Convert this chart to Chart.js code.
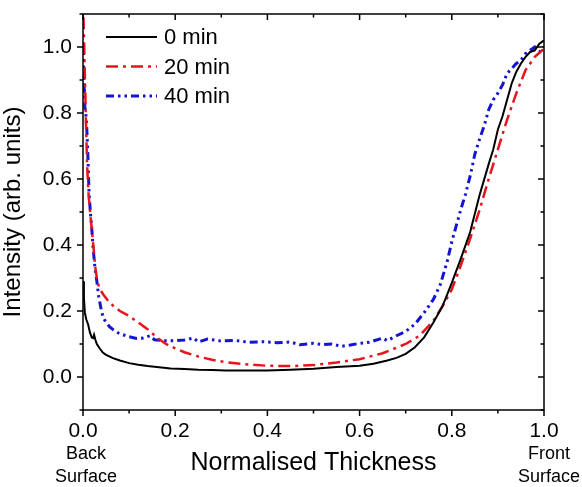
<!DOCTYPE html>
<html>
<head>
<meta charset="utf-8">
<script src="https://cdn.jsdelivr.net/npm/chart.js@4.4.1/dist/chart.umd.min.js"></script>
<style>
html, body { margin: 0; padding: 0; background: #fff; }
</style>
</head>
<body>
<canvas id="profile" width="582" height="487"></canvas>
<script>
// 0 min
const thick0 = [0, 0.002, 0.004, 0.007, 0.011, 0.015, 0.019, 0.022, 0.024, 0.027, 0.03, 0.036, 0.043, 0.05, 0.065, 0.08, 0.1, 0.12, 0.14, 0.16, 0.19, 0.22, 0.25, 0.28, 0.31, 0.35, 0.4, 0.45, 0.5, 0.55, 0.6, 0.63, 0.66, 0.68, 0.7, 0.72, 0.74, 0.76, 0.78, 0.8, 0.82, 0.84, 0.86, 0.88, 0.89, 0.9, 0.91, 0.92, 0.93, 0.94, 0.95, 0.96, 0.97, 0.98, 0.99, 1.0];
const inten0 = [0.29, 0.24, 0.195, 0.175, 0.16, 0.135, 0.12, 0.118, 0.128, 0.112, 0.1, 0.087, 0.074, 0.067, 0.057, 0.05, 0.042, 0.037, 0.033, 0.03, 0.026, 0.024, 0.022, 0.021, 0.02, 0.02, 0.02, 0.022, 0.025, 0.03, 0.034, 0.04, 0.05, 0.058, 0.07, 0.09, 0.12, 0.165, 0.215, 0.285, 0.36, 0.44, 0.55, 0.645, 0.69, 0.75, 0.79, 0.84, 0.89, 0.925, 0.95, 0.97, 0.985, 0.99, 1.01, 1.02];

// 20 min
const thick20 = [0.001, 0.003, 0.005, 0.007, 0.009, 0.012, 0.016, 0.019, 0.023, 0.026, 0.03, 0.035, 0.044, 0.055, 0.066, 0.08, 0.1, 0.12, 0.14, 0.16, 0.18, 0.2, 0.22, 0.25, 0.28, 0.31, 0.35, 0.4, 0.45, 0.5, 0.55, 0.6, 0.65, 0.7, 0.73, 0.76, 0.78, 0.8, 0.82, 0.84, 0.86, 0.88, 0.9, 0.92, 0.94, 0.96, 0.98, 1.0];
const inten20 = [1.09, 0.98, 0.86, 0.74, 0.64, 0.555, 0.49, 0.45, 0.39, 0.34, 0.3, 0.27, 0.25, 0.23, 0.215, 0.2, 0.185, 0.165, 0.145, 0.12, 0.1, 0.087, 0.075, 0.062, 0.052, 0.045, 0.039, 0.034, 0.033, 0.036, 0.044, 0.054, 0.072, 0.1, 0.125, 0.17, 0.215, 0.265, 0.34, 0.42, 0.505, 0.6, 0.69, 0.78, 0.86, 0.93, 0.97, 0.995];

// 40 min
const thick40 = [0.001, 0.002, 0.003, 0.004, 0.006, 0.008, 0.011, 0.013, 0.016, 0.019, 0.022, 0.026, 0.03, 0.034, 0.04, 0.044, 0.05, 0.058, 0.066, 0.076, 0.087, 0.1, 0.116, 0.13, 0.145, 0.155, 0.174, 0.2, 0.22, 0.24, 0.25, 0.27, 0.3, 0.33, 0.36, 0.39, 0.42, 0.45, 0.47, 0.5, 0.52, 0.54, 0.56, 0.58, 0.6, 0.62, 0.65, 0.66, 0.68, 0.7, 0.72, 0.74, 0.76, 0.775, 0.79, 0.8, 0.81, 0.82, 0.83, 0.84, 0.85, 0.86, 0.87, 0.88, 0.89, 0.9, 0.91, 0.92, 0.93, 0.94, 0.95, 0.96, 0.97, 0.98, 0.99, 1.0];
const inten40 = [1.0, 0.86, 0.89, 0.82, 0.8, 0.76, 0.655, 0.56, 0.5, 0.45, 0.39, 0.33, 0.29, 0.245, 0.2, 0.18, 0.165, 0.152, 0.143, 0.134, 0.128, 0.122, 0.117, 0.118, 0.125, 0.113, 0.11, 0.11, 0.112, 0.118, 0.106, 0.115, 0.109, 0.111, 0.105, 0.107, 0.104, 0.106, 0.098, 0.102, 0.098, 0.1, 0.093, 0.097, 0.102, 0.105, 0.118, 0.11, 0.125, 0.138, 0.16, 0.195, 0.235, 0.28, 0.35, 0.41, 0.46, 0.51, 0.555, 0.61, 0.675, 0.72, 0.76, 0.81, 0.84, 0.86, 0.885, 0.92, 0.935, 0.95, 0.96, 0.98, 0.99, 1.0, 0.985, 1.0];

const seriesNames = ["0 min", "20 min", "40 min"];
const majorLabels = [0.0, 0.2, 0.4, 0.6, 0.8, 1.0];
const backLabel = ["Back", "Surface"];
const frontLabel = ["Front", "Surface"];

const FONT = "'Liberation Sans', Arial, sans-serif";

function pts(xs, ys) {
    return xs.map((x, i) => ({ x: x, y: ys[i] }));
}

function isMajor(v) {
    return Math.round(v * 10) % 2 === 0;
}

function majorText(v) {
    const r = +v.toFixed(1);
    return majorLabels.includes(r) ? r.toFixed(1) : "";
}

// frame, inner/outer ticks, legend and surface notes
const frame = {
    id: "frame",
    afterDatasetsDraw(chart) {
        const ctx = chart.ctx;
        const a = chart.chartArea;
        const xs = chart.scales.x;
        const ys = chart.scales.y;

        ctx.save();
        ctx.strokeStyle = "#000";
        ctx.lineWidth = 1.5;
        ctx.strokeRect(a.left, a.top, a.right - a.left, a.bottom - a.top);

        ctx.beginPath();
        xs.ticks.forEach(t => {
            const px = xs.getPixelForValue(t.value);
            const len = isMajor(t.value) ? 6 : 3.5;
            ctx.moveTo(px, a.bottom);
            ctx.lineTo(px, a.bottom + len);
            ctx.moveTo(px, a.top);
            ctx.lineTo(px, a.top + len);
        });
        ys.ticks.forEach(t => {
            const py = ys.getPixelForValue(t.value);
            const len = isMajor(t.value) ? 6 : 3.5;
            ctx.moveTo(a.left, py);
            ctx.lineTo(a.left - len, py);
            ctx.moveTo(a.right, py);
            ctx.lineTo(a.right - len, py);
        });
        ctx.stroke();

        // legend
        const rows = [37, 66.5, 96];
        chart.data.datasets.forEach((ds, i) => {
            ctx.beginPath();
            ctx.setLineDash(ds.borderDash || []);
            ctx.lineWidth = ds.borderWidth;
            ctx.strokeStyle = ds.borderColor;
            ctx.moveTo(106, rows[i]);
            ctx.lineTo(157, rows[i]);
            ctx.stroke();
            ctx.setLineDash([]);
            ctx.fillStyle = "#000";
            ctx.font = "22px " + FONT;
            ctx.textAlign = "left";
            ctx.textBaseline = "middle";
            ctx.fillText(ds.label, 164, rows[i] + 1);
        });

        // surface notes under the end ticks
        ctx.font = "18px " + FONT;
        ctx.textAlign = "center";
        ctx.textBaseline = "middle";
        ctx.fillStyle = "#000";
        const bx = xs.getPixelForValue(0) + 3;
        const fx = xs.getPixelForValue(1) + 5;
        backLabel.forEach((s, i) => ctx.fillText(s, bx, 454 + i * 23));
        frontLabel.forEach((s, i) => ctx.fillText(s, fx, 454 + i * 23));
        ctx.restore();
    }
};

new Chart(document.getElementById("profile"), {
    type: "line",
    data: {
        datasets: [
            {
                label: seriesNames[0],
                data: pts(thick0, inten0),
                borderColor: "#000000",
                borderWidth: 2,
                pointRadius: 0
            },
            {
                label: seriesNames[1],
                data: pts(thick20, inten20),
                borderColor: "#e8141c",
                borderWidth: 2.5,
                borderDash: [12, 5, 3, 5],
                pointRadius: 0
            },
            {
                label: seriesNames[2],
                data: pts(thick40, inten40),
                borderColor: "#1414d2",
                borderWidth: 3,
                borderDash: [8, 4, 2.5, 4, 2.5, 4],
                pointRadius: 0
            }
        ]
    },
    options: {
        responsive: false,
        animation: false,
        layout: { padding: { left: 0, top: 14, right: 38, bottom: 0 } },
        plugins: {
            legend: { display: false },
            tooltip: { enabled: false }
        },
        scales: {
            x: {
                type: "linear",
                min: 0,
                max: 1,
                grid: { display: false, drawTicks: false },
                border: { display: false },
                ticks: {
                    stepSize: 0.1,
                    autoSkip: false,
                    maxRotation: 0,
                    padding: 9,
                    color: "#000",
                    font: { size: 21, family: FONT },
                    callback: v => majorText(v)
                },
                title: {
                    display: true,
                    text: "Normalised Thickness",
                    color: "#000",
                    font: { size: 25, family: FONT, lineHeight: 1 },
                    padding: { top: 0, bottom: 11.5 }
                },
                afterFit(s) {
                    s.height = 77;
                    s.paddingLeft = 0;
                    s.paddingRight = 0;
                }
            },
            y: {
                min: -0.1,
                max: 1.1,
                grid: { display: false, drawTicks: false },
                border: { display: false },
                ticks: {
                    stepSize: 0.1,
                    autoSkip: false,
                    padding: 11,
                    color: "#000",
                    font: { size: 21, family: FONT },
                    callback: v => majorText(v)
                },
                title: {
                    display: true,
                    text: "Intensity (arb. units)",
                    color: "#000",
                    font: { size: 24, family: FONT, lineHeight: 1 },
                    padding: { top: 1, bottom: 0 }
                },
                afterFit(s) {
                    s.width = 83;
                    s.paddingTop = 0;
                    s.paddingBottom = 0;
                }
            }
        }
    },
    plugins: [frame]
});
</script>
</body>
</html>
